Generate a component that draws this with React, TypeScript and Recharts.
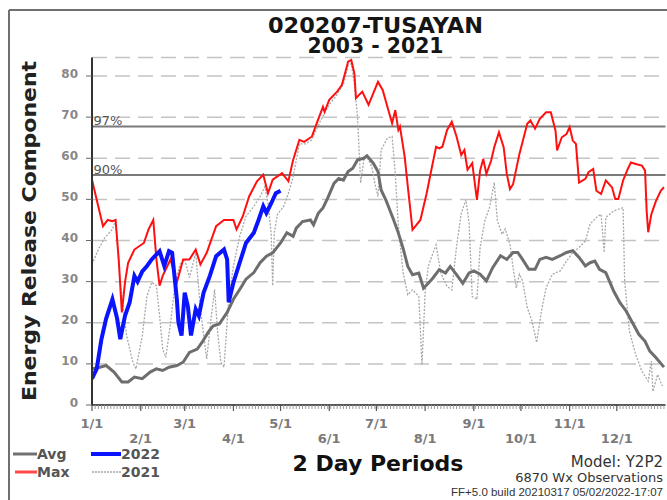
import React from 'react';
import { LineChart, Line, XAxis, YAxis, CartesianGrid, ReferenceLine } from 'recharts';

const FONT = '"DejaVu Sans", Verdana, sans-serif';
const NARROW = '"Liberation Sans", Arial, sans-serif';

// ---------- data ----------
const monthLabels = ['1/1', '2/1', '3/1', '4/1', '5/1', '6/1', '7/1', '8/1', '9/1', '10/1', '11/1', '12/1'];
const monthStartDays = [0, 31, 59, 90, 120, 151, 181, 212, 243, 273, 304, 334];
const yTicks = [0, 10, 20, 30, 40, 50, 60, 70, 80];
const pct97 = 67.7;
const pct90 = 55.9;

// [day of year, ERC]
const avgSeries: [number, number][] = [
  [0, 8.8], [5, 9.2], [9, 9.6], [14, 8], [19, 5.6], [23, 5.6], [27, 6.8], [32, 6.4], [37, 8], [41, 8.8],
  [45, 8.4], [49, 9.2], [54, 9.6], [58, 10.4], [62, 12.8], [67, 13.6], [70, 15.2], [74, 17.7], [77, 19.2],
  [81, 19.7], [86, 22.5], [90, 25.7], [94, 28.1], [98, 30.6], [103, 32.2], [107, 34.6], [111, 36.2],
  [115, 37], [120, 39.4], [124, 41.9], [128, 41], [130, 43], [134, 44.6], [139, 45], [141, 43.8],
  [144, 46.6], [147, 47.9], [150, 50.3], [154, 53.9], [157, 55.1], [160, 54.7], [163, 56.8], [166, 57.6],
  [169, 59.6], [173, 60], [175, 60.6], [179, 58.8], [182, 56.8], [184, 52.3], [187, 49.9], [192, 45],
  [195, 41.8], [198, 38.1], [201, 33.7], [204, 31.7], [208, 32.1], [211, 28.4], [214, 29.6], [217, 30.9],
  [221, 32.9], [225, 32.1], [228, 33.7], [232, 31.7], [236, 29.6], [240, 32.1], [243, 32.6], [247, 31.8],
  [251, 30.2], [255, 33.4], [260, 36.3], [264, 35.4], [268, 37.1], [271, 37.1], [274, 35.4], [278, 33],
  [282, 33], [285, 35.4], [289, 35.9], [293, 35.4], [298, 36.3], [302, 37.1], [306, 37.5], [310, 35.9],
  [314, 33.8], [317, 34.6], [320, 35], [323, 33], [327, 32.2], [332, 27.7], [336, 24.9], [340, 22.8],
  [344, 20], [348, 17.2], [352, 15.5], [355, 13.1], [359, 11.5], [364, 9.2],
];

const maxSeries: [number, number][] = [
  [0, 54.8], [3, 49.9], [7, 43.5], [10, 45], [13, 44.7], [15, 45], [17, 35.4], [19, 22.5], [21, 29.8],
  [23, 34.6], [27, 37.8], [33, 39.4], [36, 42.7], [39, 45], [41, 35.4], [43, 29], [45, 31.4], [50, 35.4],
  [54, 29.8], [58, 35.4], [62, 35.4], [66, 37.8], [69, 34.2], [73, 37], [79, 43.5], [84, 45], [90, 45],
  [92, 42.7], [96, 45.9], [100, 50.7], [105, 54.4], [109, 56], [112, 51.5], [115, 54.8], [121, 56.4],
  [125, 54.4], [128, 59.6], [132, 64.5], [135, 64], [140, 65.3], [143, 68.5], [147, 72.5], [148, 71.3],
  [151, 74.2], [156, 76.2], [159, 77.8], [161, 80.6], [163, 83.5], [165, 83.9], [167, 80.6], [168, 74.6],
  [172, 76.2], [176, 73], [179, 75.8], [182, 78.6], [185, 76.6], [188, 72.5], [191, 68.5], [193, 71.7],
  [195, 66.9], [196, 67.7], [199, 60.4], [201, 53.1], [204, 42.6], [209, 45], [213, 51.5], [216, 57.2],
  [219, 62.8], [221, 62.4], [223, 62.8], [226, 66.9], [229, 68.9], [232, 65.3], [235, 60.8], [237, 62],
  [239, 57.2], [242, 58.8], [245, 49.9], [247, 57], [249, 59.8], [251, 56.2], [254, 59.4], [256, 62.7],
  [259, 66.3], [262, 62.7], [264, 56.2], [266, 52.5], [268, 53.7], [272, 61], [277, 68.4], [279, 69.2],
  [282, 67.2], [285, 69.6], [289, 71.2], [292, 71.2], [295, 66.7], [296, 61.9], [299, 65.1], [302, 65.9],
  [304, 67.6], [306, 64.3], [308, 63.5], [310, 54.1], [314, 55], [316, 56.6], [319, 57.4], [321, 52.1],
  [324, 51.3], [327, 54.6], [331, 52.9], [333, 50.1], [335, 50.1], [338, 54.6], [341, 57.4], [343, 59],
  [346, 58.6], [350, 58.2], [352, 57], [353, 47.2], [354, 42], [356, 46.4], [359, 49.7], [362, 52.1],
  [364, 53],
];

const y2022Series: [number, number][] = [
  [0, 6.4], [3, 8.8], [6, 16], [9, 21], [13, 25.7], [16, 21], [18, 16], [21, 21.7], [24, 25], [27, 31.4],
  [29, 30], [32, 32.5], [35, 33.8], [38, 35.4], [43, 37.4], [46, 33.8], [49, 37.4], [51, 37], [54, 25.7],
  [55, 20], [57, 16.9], [59, 27.3], [61, 24], [63, 16.9], [66, 23.3], [68, 21.7], [71, 27.3], [75, 31.4],
  [79, 36.2], [84, 37.8], [86, 35.4], [87, 25], [90, 29.8], [94, 34.6], [98, 39.4], [103, 41.9], [106, 45],
  [109, 48.3], [111, 46.7], [114, 49], [117, 51.5], [120, 52.1],
];

const y2021Series: [number, number][] = [
  [0, 34.2], [4, 37.8], [8, 40.6], [13, 42.7], [15, 45], [18, 29.8], [22, 16.9], [26, 10.4], [28, 8.8],
  [32, 16.9], [35, 26.5], [38, 29.8], [41, 29], [43, 21.7], [45, 13.6], [47, 11.6], [50, 20], [53, 29.8],
  [56, 34.2], [59, 35.4], [62, 31], [66, 37], [69, 23.3], [73, 11.2], [76, 21.7], [78, 28.1], [80, 17.6],
  [82, 10.4], [84, 9.2], [87, 25.7], [90, 33.8], [94, 41], [98, 45.9], [103, 48.3], [107, 50.7], [110, 53.1],
  [112, 49], [114, 41.9], [115, 29], [116, 41.9], [118, 46.3], [122, 48.3], [125, 51.5], [128, 55.5],
  [132, 63.5], [136, 63.5], [140, 64.5], [144, 68], [148, 71], [152, 73.5], [156, 75.5], [160, 78],
  [163, 82.5], [165, 83], [167, 78], [169, 70], [171, 54], [173, 59.6], [175, 60.4], [178, 58], [180, 54],
  [182, 50.7], [184, 62], [188, 64.9], [191, 65.3], [193, 56.4], [195, 43.4], [198, 32.1], [201, 26.8],
  [204, 28], [208, 26.4], [210, 9.8], [212, 27.2], [214, 33.7], [217, 36.9], [219, 38.9], [222, 32.1],
  [226, 28.8], [229, 28], [232, 38.5], [235, 46.6], [238, 49.9], [240, 44.2], [242, 26.4], [245, 25.7],
  [247, 38.3], [250, 44.8], [253, 48], [256, 54.1], [258, 44.8], [261, 41.5], [263, 42.8], [266, 39.1],
  [268, 33.4], [270, 28.5], [272, 31.8], [274, 30.2], [277, 23.7], [280, 20.5], [283, 15.2], [286, 22.8],
  [289, 28.5], [293, 31.8], [298, 32.6], [302, 35], [306, 37.1], [310, 38.3], [314, 39.9], [317, 44],
  [321, 45.6], [324, 46.4], [326, 37.1], [327, 45.6], [332, 47.2], [335, 47.6], [338, 48], [339, 30.2],
  [342, 18], [346, 12.3], [350, 8.2], [354, 5.8], [356, 10.7], [357, 3.3], [360, 7.4], [363, 4.6],
];

// ---------- helpers ----------
const toRows = (s: [number, number][]) => s.map(([day, erc]) => ({ day, erc }));
const avgRows = toRows(avgSeries);
const maxRows = toRows(maxSeries);
const rows2022 = toRows(y2022Series);
const rows2021 = toRows(y2021Series);

const periodTicks = Array.from({ length: 183 }, (_, i) => i * 2);
const xTicks = Array.from(new Set([...periodTicks, ...monthStartDays])).sort((a, b) => a - b);

const XTick = (props: any) => {
  const { x, y, payload } = props;
  const idx = monthStartDays.indexOf(payload.value);
  if (idx < 0) {
    return <line x1={x} x2={x} y1={y} y2={y + 4} stroke="#9a9a9a" strokeWidth={1} />;
  }
  const row = idx % 2;
  return (
    <g>
      <line x1={x} x2={x} y1={y} y2={y + 6} stroke="#555" strokeWidth={1.2} />
      <text
        x={x}
        y={y + (row ? 38 : 23)}
        textAnchor="middle"
        fontFamily={FONT}
        fontWeight="bold"
        fontSize={13}
        fill="#7a7a7a"
      >
        {monthLabels[idx]}
      </text>
    </g>
  );
};

const YTick = (props: any) => {
  const { x, y, payload } = props;
  return (
    <text x={x} y={y + 1.5} textAnchor="end" fontFamily={FONT} fontWeight="bold" fontSize={12} fill="#888">
      {payload.value}
    </text>
  );
};

export default function App() {
  return (
    <div style={{ position: 'fixed', left: 0, top: 0, width: 667, height: 500, background: '#fff', overflow: 'hidden' }}>
      <div style={{ position: 'absolute', left: 0, top: 0 }}>
        <LineChart width={667} height={500} margin={{ top: 57.5, right: 1.5, left: 32, bottom: 65 }}>
          <CartesianGrid vertical={false} stroke="#c4c4c4" strokeDasharray="15 8" strokeWidth={1.5} />
          <XAxis
            dataKey="day"
            type="number"
            domain={[0, 365]}
            ticks={xTicks}
            interval={0}
            tickLine={false}
            tickSize={0}
            tickMargin={0}
            tick={<XTick />}
            axisLine={{ stroke: '#555', strokeWidth: 2 }}
            height={30}
            allowDataOverflow
          />
          <YAxis
            type="number"
            domain={[0, 84.5]}
            ticks={yTicks}
            interval={0}
            width={60}
            tickSize={6}
            tickMargin={8}
            tick={<YTick />}
            tickLine={{ stroke: '#666' }}
            axisLine={{ stroke: '#333', strokeWidth: 2 }}
            allowDataOverflow
          />
          <ReferenceLine
            y={pct97}
            stroke="#7a7a7a"
            strokeWidth={2}
            label={{ value: '97%', position: 'insideBottomLeft', offset: 1.5, fill: '#555', fontSize: 13, fontFamily: FONT }}
          />
          <ReferenceLine
            y={pct90}
            stroke="#7a7a7a"
            strokeWidth={2}
            label={{ value: '90%', position: 'insideBottomLeft', offset: 1.5, fill: '#555', fontSize: 13, fontFamily: FONT }}
          />
          <Line data={rows2021} dataKey="erc" name="2021" type="linear" stroke="#a8a8a8" strokeWidth={1.3} strokeDasharray="2 1.5" dot={false} isAnimationActive={false} />
          <Line data={avgRows} dataKey="erc" name="Avg" type="linear" stroke="#6e6e6e" strokeWidth={3} dot={false} isAnimationActive={false} />
          <Line data={maxRows} dataKey="erc" name="Max" type="linear" stroke="#ff1010" strokeWidth={2} dot={false} isAnimationActive={false} />
          <Line data={rows2022} dataKey="erc" name="2022" type="linear" stroke="#0a14ff" strokeWidth={4} dot={false} isAnimationActive={false} />
        </LineChart>
      </div>
      <svg width={667} height={500} style={{ position: 'absolute', left: 0, top: 0, pointerEvents: 'none' }}>
        <line x1={9} y1={10} x2={667} y2={10} stroke="#707070" strokeWidth={2} />
        <line x1={9} y1={10} x2={9} y2={500} stroke="#707070" strokeWidth={2} />
        <text x={375.5} y={33} textAnchor="middle" fontFamily={FONT} fontWeight="bold" fontSize={22} fill="#151515" textLength={215} lengthAdjust="spacingAndGlyphs">020207-TUSAYAN</text>
        <text x={375.5} y={53} textAnchor="middle" fontFamily={FONT} fontWeight="bold" fontSize={21} fill="#151515" textLength={136} lengthAdjust="spacingAndGlyphs">2003 - 2021</text>
        <text transform="translate(35.5,231) rotate(-90)" textAnchor="middle" fontFamily={FONT} fontWeight="bold" fontSize={20} fill="#222" textLength={340} lengthAdjust="spacingAndGlyphs">Energy Release Component</text>
        {/* legend */}
        <line x1={13} y1={454} x2={37} y2={454} stroke="#707070" strokeWidth={3} />
        <text x={37} y={459} fontFamily={FONT} fontWeight="bold" fontSize={14} fill="#555">Avg</text>
        <line x1={15} y1={472} x2={37} y2={472} stroke="#ff4a4a" strokeWidth={3} />
        <text x={37} y={477} fontFamily={FONT} fontWeight="bold" fontSize={14} fill="#555">Max</text>
        <line x1={91} y1={454} x2={121} y2={454} stroke="#0a14ff" strokeWidth={4} />
        <text x={121} y={459} fontFamily={FONT} fontWeight="bold" fontSize={14} fill="#555">2022</text>
        <line x1={92} y1={472} x2={121} y2={472} stroke="#a8a8a8" strokeWidth={1.5} strokeDasharray="2 1" />
        <text x={121} y={477} fontFamily={FONT} fontWeight="bold" fontSize={14} fill="#555">2021</text>
        {/* footer */}
        <text x={378} y={471} textAnchor="middle" fontFamily={FONT} fontWeight="bold" fontSize={22} fill="#111">2 Day Periods</text>
        <text x={663} y={467} textAnchor="end" fontFamily={FONT} fontSize={15} fill="#333">Model: Y2P2</text>
        <text x={663} y={482} textAnchor="end" fontFamily={FONT} fontSize={13} fill="#333">6870 Wx Observations</text>
        <text x={663} y={496} textAnchor="end" fontFamily={NARROW} fontSize={11.5} fill="#333">FF+5.0 build 20210317 05/02/2022-17:07</text>
      </svg>
    </div>
  );
}
